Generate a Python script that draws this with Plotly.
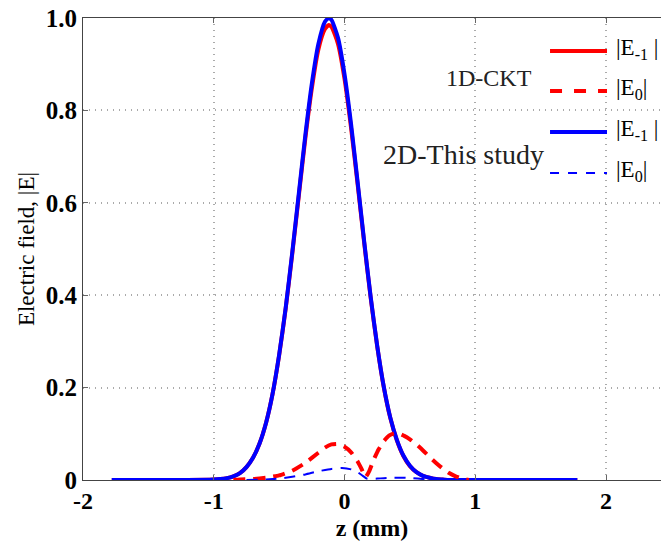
import plotly.graph_objects as go

# ---- data ----
z_main = [-1.78, -1.20, -1.00, -0.95, -0.90, -0.85, -0.80, -0.75, -0.70, -0.65, -0.60, -0.55,
          -0.50, -0.45, -0.40, -0.35, -0.30, -0.25, -0.20, -0.15, -0.12, -0.10, -0.05,
          0.00, 0.05, 0.10, 0.15, 0.20, 0.25, 0.30, 0.35, 0.40, 0.45, 0.50, 0.55, 0.60,
          0.65, 0.70, 0.75, 0.80, 1.00, 1.78]
e_m1_2d = [0.0, 0.0, 0.001, 0.002, 0.004, 0.008, 0.015, 0.028, 0.048, 0.079, 0.124, 0.187,
           0.271, 0.373, 0.492, 0.619, 0.746, 0.858, 0.944, 0.992, 1.000, 0.996, 0.957,
           0.878, 0.770, 0.645, 0.517, 0.396, 0.290, 0.202, 0.135, 0.087, 0.053, 0.031,
           0.017, 0.009, 0.005, 0.002, 0.001, 0.0, 0.0, 0.0]
e_m1_1d = [0.0, 0.0, 0.001, 0.002, 0.004, 0.008, 0.015, 0.028, 0.048, 0.079, 0.124, 0.187,
           0.270, 0.371, 0.489, 0.614, 0.739, 0.848, 0.932, 0.976, 0.985, 0.981, 0.944,
           0.868, 0.762, 0.640, 0.514, 0.394, 0.289, 0.201, 0.134, 0.086, 0.052, 0.030,
           0.017, 0.009, 0.005, 0.002, 0.001, 0.0, 0.0, 0.0]

z_e0_1d = [-0.85, -0.80, -0.70, -0.60, -0.50, -0.40, -0.30, -0.20, -0.15, -0.10, -0.05, 0.00,
           0.05, 0.10, 0.13, 0.16, 0.19, 0.22, 0.26, 0.30, 0.34, 0.38, 0.42, 0.46, 0.50,
           0.55, 0.60, 0.65, 0.70, 0.75, 0.80, 0.85, 0.90, 0.95]
e0_1d = [0.0, 0.001, 0.002, 0.005, 0.010, 0.020, 0.037, 0.059, 0.070, 0.077, 0.078, 0.072,
         0.060, 0.040, 0.024, 0.006, 0.020, 0.042, 0.066, 0.084, 0.096, 0.101, 0.100, 0.095,
         0.088, 0.077, 0.064, 0.050, 0.037, 0.025, 0.015, 0.008, 0.003, 0.0]

z_e0_2d = [-0.75, -0.60, -0.50, -0.40, -0.30, -0.20, -0.10, -0.02, 0.05, 0.10, 0.14, 0.17,
           0.20, 0.25, 0.30, 0.38, 0.45, 0.52, 0.60, 0.70]
e0_2d = [0.0, 0.001, 0.003, 0.007, 0.012, 0.019, 0.024, 0.026, 0.023, 0.017, 0.009, 0.003,
         0.002, 0.003, 0.004, 0.005, 0.005, 0.004, 0.002, 0.0]

x_ticks = [-2, -1, 0, 1, 2]
x_ticktext = ["-2", "-1", "0", "1", "2"]
y_ticks = [0, 0.2, 0.4, 0.6, 0.8, 1.0]
y_ticktext = ["0", "0.2", "0.4", "0.6", "0.8", "1.0"]

legend_labels = ["|E<sub>-1</sub> |", "|E<sub>0</sub>|", "|E<sub>-1</sub> |", "|E<sub>0</sub>|"]
group_titles = ["1D-CKT", "2D-This study"]

RED = "rgb(255,0,0)"
BLUE = "rgb(0,0,255)"
FONT = "Liberation Serif"

fig = go.Figure()
fig.add_trace(go.Scatter(x=z_main, y=e_m1_1d, mode="lines", line=dict(color=RED, width=4, shape="spline", smoothing=0.6)))
fig.add_trace(go.Scatter(x=z_main, y=e_m1_2d, mode="lines", line=dict(color=BLUE, width=4, shape="spline", smoothing=0.6)))
fig.add_trace(go.Scatter(x=z_e0_1d, y=e0_1d, mode="lines", line=dict(color=RED, width=4, dash="12px,8px", shape="spline", smoothing=0.4)))
fig.add_trace(go.Scatter(x=z_e0_2d, y=e0_2d, mode="lines", line=dict(color=BLUE, width=2, dash="11px,8px", shape="spline", smoothing=0.4)))

# custom legend
leg_y = [0.9286, 0.842, 0.7532, 0.6645]
leg_col = [RED, RED, BLUE, BLUE]
leg_w = [4, 4, 4, 2]
leg_dash = ["solid", "dash", "solid", "dash"]
for yy, c, w, d, lab in zip(leg_y, leg_col, leg_w, leg_dash, legend_labels):
    fig.add_shape(type="line", xref="paper", yref="paper", x0=0.808, x1=0.9066, y0=yy, y1=yy,
                  line=dict(color=c, width=w, dash=d))
    fig.add_annotation(xref="paper", yref="paper", x=0.9187, y=yy + 0.004, xanchor="left", yanchor="middle",
                       text=lab, showarrow=False, font=dict(family=FONT, size=23, color="black"))

fig.add_annotation(xref="paper", yref="paper", x=0.7024, y=0.8712, xanchor="center", yanchor="middle",
                   text=group_titles[0], showarrow=False, font=dict(family=FONT, size=24, color="#222"))
fig.add_annotation(xref="paper", yref="paper", x=0.6583, y=0.7035, xanchor="center", yanchor="middle",
                   text=group_titles[1], showarrow=False, font=dict(family=FONT, size=28, color="#222"))

fig.update_layout(
    width=661, height=541,
    margin=dict(l=83, r=0, t=18, b=61),
    plot_bgcolor="white", paper_bgcolor="white",
    showlegend=False,
    font=dict(family=FONT, color="black"),
)
grid_style = dict(showgrid=True, gridcolor="#aaa", griddash="1px,5px", gridwidth=1.5, zeroline=False)
fig.update_xaxes(
    range=[-2, 2.42], tickvals=x_ticks, ticktext=x_ticktext, automargin=False,
    showline=True, linecolor="#444", linewidth=1, mirror="ticks",
    ticks="inside", ticklen=5, tickcolor="#666", ticklabelstandoff=-1,
    tickfont=dict(family=FONT, size=24, color="black", weight="bold"),
    title=dict(text="z (mm)", font=dict(family=FONT, size=24, color="black", weight="bold")),
    **grid_style,
)
fig.update_yaxes(
    range=[0, 1.0], tickvals=y_ticks, ticktext=y_ticktext,
    showline=True, linecolor="#444", linewidth=1, mirror=False,
    ticks="inside", ticklen=5, tickcolor="#666",
    tickfont=dict(family=FONT, size=25, color="black", weight="bold"),
    title=dict(text="Electric field, |E|", font=dict(family=FONT, size=23, color="black"), standoff=4),
    **grid_style,
)

fig.write_html("out.html")
